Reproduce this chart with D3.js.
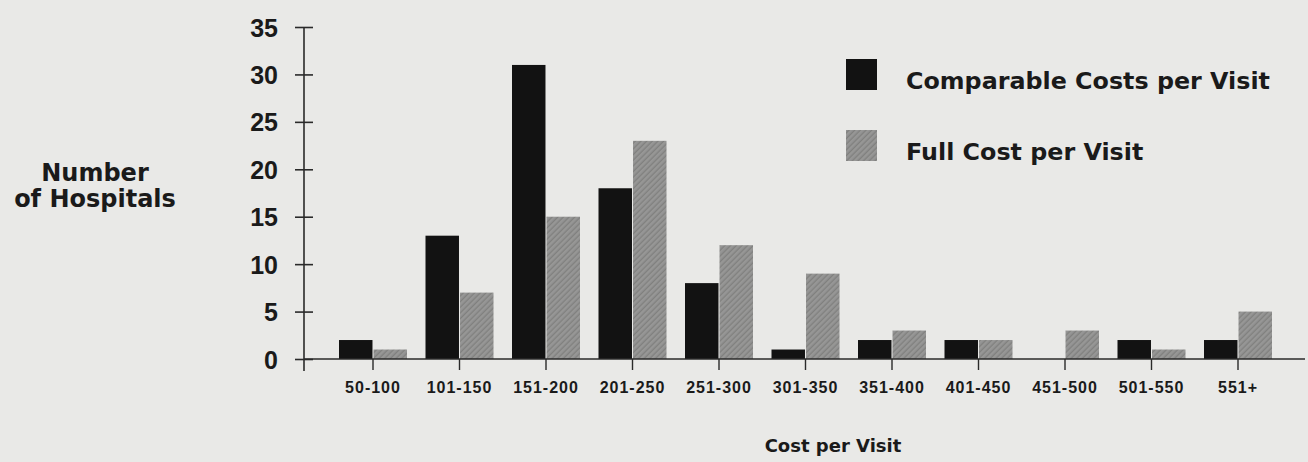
<!DOCTYPE html>
<html>
<head>
<meta charset="utf-8">
<script src="https://cdn.jsdelivr.net/npm/d3@7/dist/d3.min.js"></script>
<style>
  html, body { margin: 0; padding: 0; background: #e9e9e7; }
  svg { display: block; }
  text { fill: #1a1a1a; }
</style>
</head>
<body>
<svg id="chart" width="1308" height="462"></svg>
<script>
// Cost-per-visit buckets and hospital counts for each cost measure
const categories = ["50-100", "101-150", "151-200", "201-250", "251-300", "301-350",
                    "351-400", "401-450", "451-500", "501-550", "551+"];
const comparableCosts = [2, 13, 31, 18, 8, 1, 2, 2, 0, 2, 2];
const fullCosts       = [1, 7, 15, 23, 12, 9, 3, 2, 3, 1, 5];
const seriesNames = ["Comparable Costs per Visit", "Full Cost per Visit"];
const yTicks = [0, 5, 10, 15, 20, 25, 30, 35];

const svg = d3.select("#chart");
const W = 1308, H = 462;

svg.append("rect").attr("width", W).attr("height", H).attr("fill", "#e9e9e7");

// Hatched grey fill for the full-cost series
const defs = svg.append("defs");
const pat = defs.append("pattern")
  .attr("id", "hatch")
  .attr("patternUnits", "userSpaceOnUse")
  .attr("width", 4).attr("height", 4)
  .attr("patternTransform", "rotate(45)");
pat.append("rect").attr("width", 4).attr("height", 4).attr("fill", "#8e8e8d");
pat.append("line").attr("x1", 0).attr("y1", 0).attr("x2", 0).attr("y2", 4)
  .attr("stroke", "#767675").attr("stroke-width", 1.2);
pat.append("line").attr("x1", 2).attr("y1", 0).attr("x2", 2).attr("y2", 4)
  .attr("stroke", "#a3a3a2").attr("stroke-width", 0.8);

const colors = { comparable: "#121212", full: "url(#hatch)" };

const axisX = 304;
const plotRight = 1305;

const x0 = d3.scaleBand()
  .domain(categories)
  .range([329.75, 1281.25])
  .padding(0);
const bw = x0.bandwidth();
const x1 = d3.scaleBand()
  .domain(["comparable", "full"])
  .range([bw / 2 - 34, bw / 2 + 34])
  .paddingInner(0.03);

const y = d3.scaleLinear().domain([0, 35]).range([359, 27]);

const rows = categories.map((c, i) => ({
  cat: c,
  values: [
    { key: "comparable", value: comparableCosts[i] },
    { key: "full", value: fullCosts[i] }
  ]
}));

// Bars
const groups = svg.append("g")
  .selectAll("g")
  .data(rows)
  .join("g")
  .attr("transform", d => `translate(${x0(d.cat)},0)`);

groups.selectAll("rect")
  .data(d => d.values.filter(v => v.value > 0))
  .join("rect")
  .attr("x", d => x1(d.key))
  .attr("width", x1.bandwidth())
  .attr("y", d => y(d.value))
  .attr("height", d => y(0) - y(d.value))
  .attr("fill", d => colors[d.key]);

// Y axis with ticks crossing the spine
const yAxis = d3.axisLeft(y).tickValues(yTicks).tickSize(0).tickPadding(26)
  .tickFormat(d3.format("d"));
const gy = svg.append("g").attr("transform", `translate(${axisX},0)`).call(yAxis);
gy.select(".domain").remove();
gy.selectAll(".tick text")
  .attr("font-family", "'Liberation Sans', Arial, sans-serif")
  .attr("font-weight", "bold")
  .attr("font-size", 25)
  .attr("fill", "#1a1a1a")
  .attr("dy", "0.36em");
gy.selectAll(".tick").append("line")
  .attr("x1", -9).attr("x2", 9)
  .attr("stroke", "#2a2a2a").attr("stroke-width", 1.6);
svg.append("line")
  .attr("x1", axisX).attr("x2", axisX)
  .attr("y1", y(35)).attr("y2", y(0) + 12)
  .attr("stroke", "#2a2a2a").attr("stroke-width", 1.6);

// X axis: baseline, category ticks and labels
svg.append("line")
  .attr("x1", axisX).attr("x2", plotRight)
  .attr("y1", y(0)).attr("y2", y(0))
  .attr("stroke", "#2a2a2a").attr("stroke-width", 1.6);
const xAxis = d3.axisBottom(x0).tickSize(11).tickPadding(12);
const gx = svg.append("g").attr("transform", `translate(0,${y(0)})`).call(xAxis);
gx.select(".domain").remove();
gx.selectAll(".tick line").attr("stroke", "#2a2a2a").attr("stroke-width", 1.4);
gx.selectAll(".tick text")
  .attr("font-family", "'Liberation Sans', Arial, sans-serif")
  .attr("font-weight", "bold")
  .attr("font-size", 16)
  .attr("letter-spacing", 1)
  .attr("fill", "#1a1a1a");

// Axis titles
const titleFont = "'DejaVu Sans', sans-serif";
const yTitle = svg.append("text")
  .attr("text-anchor", "middle")
  .attr("font-family", titleFont)
  .attr("font-weight", "bold")
  .attr("font-size", 24);
yTitle.append("tspan").attr("x", 95).attr("y", 181).text("Number");
yTitle.append("tspan").attr("x", 95).attr("y", 207).text("of Hospitals");

svg.append("text")
  .attr("x", 833).attr("y", 452)
  .attr("text-anchor", "middle")
  .attr("font-family", titleFont)
  .attr("font-weight", "bold")
  .attr("font-size", 18)
  .text("Cost per Visit");

// Legend
const legend = svg.append("g");
const legendItems = [
  { key: "comparable", name: seriesNames[0], y: 59 },
  { key: "full", name: seriesNames[1], y: 130 }
];
legendItems.forEach(it => {
  legend.append("rect")
    .attr("x", 846).attr("y", it.y)
    .attr("width", 31).attr("height", 31)
    .attr("fill", colors[it.key]);
  legend.append("text")
    .attr("x", 906).attr("y", it.y + 30)
    .attr("font-family", titleFont)
    .attr("font-weight", "bold")
    .attr("font-size", 23.8)
    .text(it.name);
});
</script>
</body>
</html>
